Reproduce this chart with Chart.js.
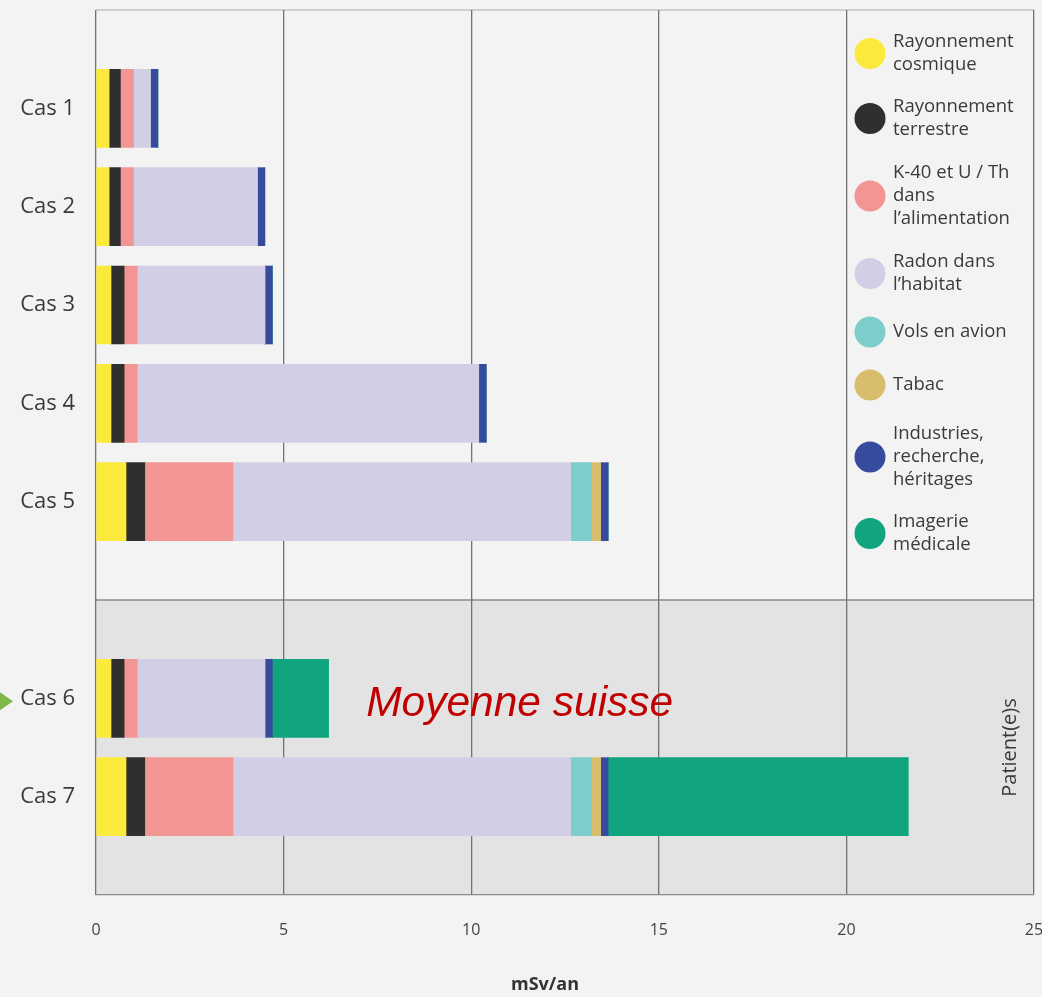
<!DOCTYPE html>
<html lang="fr">
<head>
<meta charset="utf-8">
<title>Exposition aux rayonnements (mSv/an)</title>
<script src="https://cdn.jsdelivr.net/npm/chart.js@4/dist/chart.umd.min.js"></script>
<style>
  html, body { margin: 0; padding: 0; background: #f3f3f3; }
  canvas { display: block; }
</style>
</head>
<body>
<canvas id="dose" width="1042" height="997"></canvas>
<script>
// Rows of the chart; the empty rows keep space above, between the two groups and below.
const categories = ['', 'Cas 1', 'Cas 2', 'Cas 3', 'Cas 4', 'Cas 5', '', 'Cas 6', 'Cas 7', ''];

// Dose per source, in mSv/an, one value per row.
const cosmique     = [null, 0.35, 0.35, 0.40, 0.40, 0.80, null, 0.40, 0.80, null];
const terrestre    = [null, 0.30, 0.30, 0.35, 0.35, 0.50, null, 0.35, 0.50, null];
const alimentation = [null, 0.35, 0.35, 0.35, 0.35, 2.35, null, 0.35, 2.35, null];
const radon        = [null, 0.45, 3.30, 3.40, 9.10, 9.00, null, 3.40, 9.00, null];
const vols         = [null, 0,    0,    0,    0,    0.55, null, 0,    0.55, null];
const tabac        = [null, 0,    0,    0,    0,    0.25, null, 0,    0.25, null];
const industries   = [null, 0.20, 0.20, 0.20, 0.20, 0.20, null, 0.20, 0.20, null];
const imagerie     = [null, 0,    0,    0,    0,    0,    null, 1.50, 8.00, null];

const seriesNames = [
  'Rayonnement\ncosmique',
  'Rayonnement\nterrestre',
  'K-40 et U / Th\ndans\nl\u2019alimentation',
  'Radon dans\nl\u2019habitat',
  'Vols en avion',
  'Tabac',
  'Industries,\nrecherche,\nh\u00e9ritages',
  'Imagerie\nm\u00e9dicale'
];
const seriesValues = [cosmique, terrestre, alimentation, radon, vols, tabac, industries, imagerie];
const seriesColors = ['#fbea3c', '#2f2f2f', '#f29694', '#d1cee5', '#7dcdcd', '#d8bd6c', '#374b9e', '#10a47f'];

// x-axis tick values
const xTicks = [0, 5, 10, 15, 20, 25];

const xTitle = 'mSv/an';
const groupLabel = 'Patient(e)s';
const averageLabel = 'Moyenne suisse';
const averageRow = 7;

const FONT = '"Open Sans", "DejaVu Sans", sans-serif';
const TEXT = '#3a3a3a';

// spacing after each legend entry (px between last and next first line)
const legendGaps = [42, 43, 43, 47, 53, 49, 42, 0];

// Panel backgrounds, borders and the divider between the two groups.
const panels = {
  id: 'panels',
  beforeDraw(chart) {
    const { ctx, chartArea: a, scales } = chart;
    const yDiv = scales.y.getPixelForValue(6);
    ctx.save();
    ctx.fillStyle = '#f3f3f3';
    ctx.fillRect(0, 0, chart.width, chart.height);
    ctx.fillStyle = '#e3e3e3';
    ctx.fillRect(a.left, yDiv, a.right - a.left, a.bottom - yDiv);
    ctx.strokeStyle = '#8a8a8a';
    ctx.lineWidth = 1.3;
    ctx.beginPath();
    ctx.moveTo(a.left, yDiv);
    ctx.lineTo(a.right, yDiv);
    ctx.stroke();
    ctx.strokeStyle = '#c4c4c4';
    ctx.lineWidth = 1.5;
    ctx.beginPath();
    ctx.moveTo(a.left, a.top);
    ctx.lineTo(a.right, a.top);
    ctx.stroke();
    ctx.restore();
  }
};

// Legend, axis title, group label and annotation drawn on top of the plot.
const overlay = {
  id: 'overlay',
  afterDraw(chart) {
    const { ctx, chartArea: a, scales } = chart;
    ctx.save();

    // legend column inside the top right of the plot
    const cx = a.right - 164;
    const tx = a.right - 141;
    const lineH = 23;
    let y = a.top + 32;
    ctx.font = '18.5px ' + FONT;
    ctx.textBaseline = 'middle';
    ctx.textAlign = 'left';
    seriesNames.forEach((name, i) => {
      const lines = name.split('\n');
      const mid = y + (lines.length - 1) * lineH / 2;
      ctx.fillStyle = seriesColors[i];
      ctx.beginPath();
      ctx.arc(cx, mid, 15.5, 0, Math.PI * 2);
      ctx.fill();
      ctx.fillStyle = TEXT;
      lines.forEach((ln, k) => ctx.fillText(ln, tx, y + k * lineH));
      y += (lines.length - 1) * lineH + legendGaps[i];
    });

    // x-axis title
    ctx.font = 'bold 18px ' + FONT;
    ctx.fillStyle = '#333';
    ctx.textAlign = 'center';
    ctx.fillText(xTitle, (a.left + a.right) / 2 - 20, a.bottom + 90);

    // vertical group label in the lower panel
    const yDiv = scales.y.getPixelForValue(6);
    ctx.save();
    ctx.translate(a.right - 24, (yDiv + a.bottom) / 2);
    ctx.rotate(-Math.PI / 2);
    ctx.textAlign = 'center';
    ctx.font = '20px ' + FONT;
    ctx.fillStyle = TEXT;
    ctx.fillText(groupLabel, 0, 0);
    ctx.restore();

    // annotation beside the average row
    ctx.font = 'italic 42.5px "Liberation Sans", Arial, sans-serif';
    ctx.fillStyle = '#c00000';
    ctx.textAlign = 'left';
    ctx.fillText(averageLabel, scales.x.getPixelForValue(7.2), scales.y.getPixelForValue(averageRow) + 6);

    // green pointer at the left edge
    const ya = scales.y.getPixelForValue(averageRow) + 3;
    ctx.fillStyle = '#7fb847';
    ctx.beginPath();
    ctx.moveTo(0, ya - 9);
    ctx.lineTo(13, ya);
    ctx.lineTo(0, ya + 9);
    ctx.closePath();
    ctx.fill();

    ctx.restore();
  }
};

new Chart(document.getElementById('dose'), {
  type: 'bar',
  data: {
    labels: categories,
    datasets: seriesValues.map((vals, i) => ({
      label: seriesNames[i].replace(/\n/g, ' '),
      data: vals,
      backgroundColor: seriesColors[i],
      borderWidth: 0,
      barThickness: 78
    }))
  },
  options: {
    indexAxis: 'y',
    responsive: false,
    animation: false,
    layout: { padding: { top: 10, right: 8, left: 0, bottom: 0 } },
    plugins: {
      legend: { display: false },
      tooltip: { enabled: false }
    },
    scales: {
      x: {
        stacked: true,
        min: 0,
        max: 25,
        afterBuildTicks(scale) { scale.ticks = xTicks.map(v => ({ value: v })); },
        afterFit(scale) {
          scale.height = 102;
          scale.paddingLeft = 0;
          scale.paddingRight = 0;
        },
        grid: { color: '#727272', lineWidth: 1.3, drawTicks: false },
        border: { display: true, color: '#8a8a8a', width: 1.3 },
        ticks: { color: '#444', padding: 26, font: { family: FONT, size: 16 } }
      },
      y: {
        stacked: true,
        offset: false,
        afterFit(scale) {
          scale.width = 96;
          scale.paddingTop = 0;
          scale.paddingBottom = 0;
        },
        grid: { display: false, drawTicks: false },
        border: { display: false },
        ticks: { color: TEXT, padding: 21, font: { family: FONT, size: 22 }, autoSkip: false }
      }
    }
  },
  plugins: [panels, overlay]
});
</script>
</body>
</html>
